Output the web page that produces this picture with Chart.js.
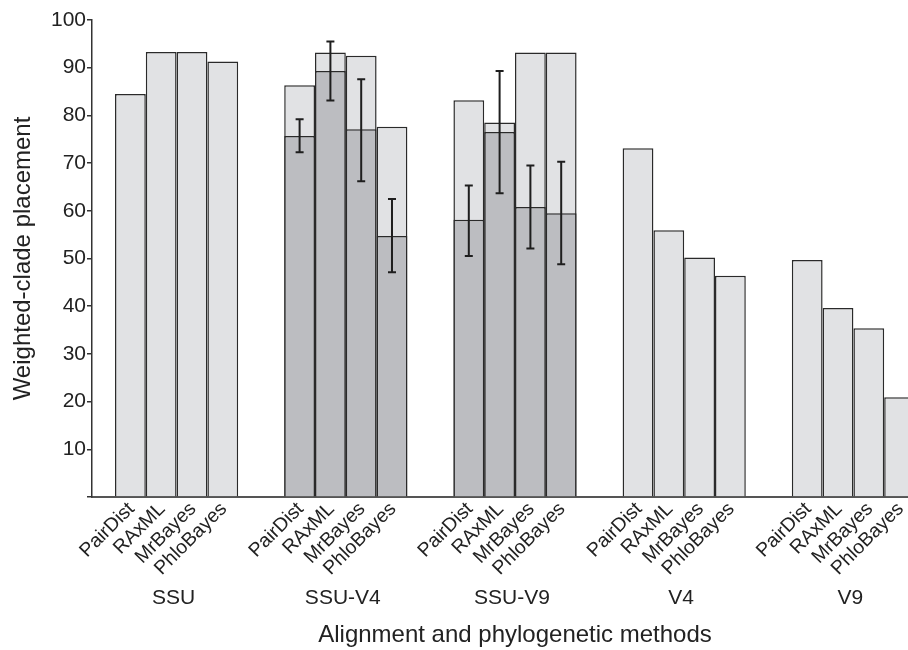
<!DOCTYPE html>
<html>
<head>
<meta charset="utf-8">
<script src="https://cdn.jsdelivr.net/npm/chart.js@4.4.0/dist/chart.umd.min.js"></script>
<style>
html, body { margin: 0; padding: 0; background: #fff; overflow: hidden; }
#wrap { width: 940px; height: 650px; }
</style>
</head>
<body>
<div id="wrap"><canvas id="chart" width="940" height="650"></canvas></div>
<script>
// ---- data ----
const groups = ['SSU', 'SSU-V4', 'SSU-V9', 'V4', 'V9'];
const methods = ['PairDist', 'RAxML', 'MrBayes', 'PhloBayes'];

// light bars (one value per group)
const pairDist  = [84.5, 86.3, 83.2, 73.1, 49.7];
const raxml     = [93.3, 93.2, 78.5, 55.9, 39.6];
const mrBayes   = [93.3, 92.5, 93.2, 50.2, 35.4];
const phloBayes = [91.3, 77.6, 93.2, 46.4, 20.9];

// dark overlay bars (only combined alignments)
const pairDistDark  = [null, 75.7, 58.1, null, null];
const raxmlDark     = [null, 89.3, 76.5, null, null];
const mrBayesDark   = [null, 77.1, 60.8, null, null];
const phloBayesDark = [null, 54.7, 59.5, null, null];

// error bars [low, high] for the dark bars
const pairDistErr  = [null, [72.3, 79.2], [50.5, 65.3], null, null];
const raxmlErr     = [null, [83.1, 95.5], [63.7, 89.3], null, null];
const mrBayesErr   = [null, [66.2, 87.6], [52.1, 69.5], null, null];
const phloBayesErr = [null, [47.1, 62.5], [48.8, 70.3], null, null];

const yTicks = [10, 20, 30, 40, 50, 60, 70, 80, 90, 100];

const lightVals = [pairDist, raxml, mrBayes, phloBayes];
const darkVals = [pairDistDark, raxmlDark, mrBayesDark, phloBayesDark];
const errVals = [pairDistErr, raxmlErr, mrBayesErr, phloBayesErr];

const FONT = "'Liberation Sans', Arial, sans-serif";
const LIGHT = '#e1e2e4';
const DARK = '#bcbdc1';
const EDGE = '#2a2a2a';

// dark bars go first so they are drawn over the light ones;
// same stack name = same slot in the group (values are not summed, y.stacked = false)
const datasets = [];
methods.forEach((m, i) => {
    datasets.push({ label: m + ' dark', data: darkVals[i], stack: m,
        backgroundColor: DARK, borderColor: EDGE, borderWidth: 1.5 });
});
methods.forEach((m, i) => {
    datasets.push({ label: m, data: lightVals[i], stack: m,
        backgroundColor: LIGHT, borderColor: EDGE, borderWidth: 1.5 });
});

// error bars over the dark bars
const errorBars = {
    id: 'errorBars',
    afterDatasetsDraw(chart) {
        const ctx = chart.ctx;
        const y = chart.scales.y;
        ctx.save();
        ctx.strokeStyle = '#1e1e1e';
        ctx.lineWidth = 2;
        for (let d = 0; d < 4; d++) {
            const meta = chart.getDatasetMeta(d);
            errVals[d].forEach((e, i) => {
                if (!e) return;
                const x = meta.data[i].x;
                const lo = y.getPixelForValue(e[0]);
                const hi = y.getPixelForValue(e[1]);
                ctx.beginPath();
                ctx.moveTo(x, lo); ctx.lineTo(x, hi);
                ctx.moveTo(x - 4, lo); ctx.lineTo(x + 4, lo);
                ctx.moveTo(x - 4, hi); ctx.lineTo(x + 4, hi);
                ctx.stroke();
            });
        }
        ctx.restore();
    }
};

// rotated method names under every bar
const methodLabels = {
    id: 'methodLabels',
    afterDraw(chart) {
        const ctx = chart.ctx;
        const base = chart.chartArea.bottom;
        ctx.save();
        ctx.fillStyle = '#222';
        ctx.font = '19.5px ' + FONT;
        ctx.textAlign = 'right';
        ctx.textBaseline = 'middle';
        for (let d = 4; d < 8; d++) {
            const meta = chart.getDatasetMeta(d);
            meta.data.forEach(bar => {
                ctx.save();
                ctx.translate(bar.x + 1, base + 9);
                ctx.rotate(-Math.PI / 4);
                ctx.fillText(methods[d - 4], 0, 0);
                ctx.restore();
            });
        }
        ctx.restore();
    }
};

new Chart(document.getElementById('chart'), {
    type: 'bar',
    data: { labels: groups, datasets: datasets },
    plugins: [errorBars, methodLabels],
    options: {
        responsive: false,
        animation: false,
        devicePixelRatio: 1,
        layout: { padding: { top: 20, right: 2, bottom: 0, left: 0 } },
        datasets: { bar: { categoryPercentage: 0.728, barPercentage: 1.0 } },
        plugins: { legend: { display: false }, tooltip: { enabled: false } },
        scales: {
            x: {
                type: 'category',
                offset: true,
                grid: { display: false, drawTicks: false },
                border: { display: true, color: '#555', width: 2 },
                ticks: { color: '#222', font: { family: FONT, size: 21 }, padding: 89, labelOffset: -3, maxRotation: 0 },
                title: { display: true, text: 'Alignment and phylogenetic methods', color: '#222',
                    font: { family: FONT, size: 24 }, padding: { top: 0, bottom: 0 } },
                afterFit(scale) {
                    scale.height = 153;
                    // the big tick padding must not shrink the plot sideways
                    scale.paddingLeft = 0;
                    scale.paddingRight = 0;
                }
            },
            y: {
                min: 0,
                max: 100,
                stacked: false,
                afterBuildTicks(scale) { scale.ticks = [0].concat(yTicks).map(v => ({ value: v })); },
                grid: { drawOnChartArea: false, drawTicks: true, tickLength: 5, color: '#333', lineWidth: 1.5 },
                border: { display: true, color: '#333', width: 1.5 },
                ticks: { color: '#222', font: { family: FONT, size: 21 }, padding: 1,
                    callback: v => (v === 0 ? '' : v) },
                title: { display: true, text: 'Weighted-clade placement', color: '#222',
                    font: { family: FONT, size: 24 }, padding: { top: 9, bottom: 0 } },
                afterFit(scale) { scale.width = 92; }
            }
        }
    }
});
</script>
</body>
</html>
